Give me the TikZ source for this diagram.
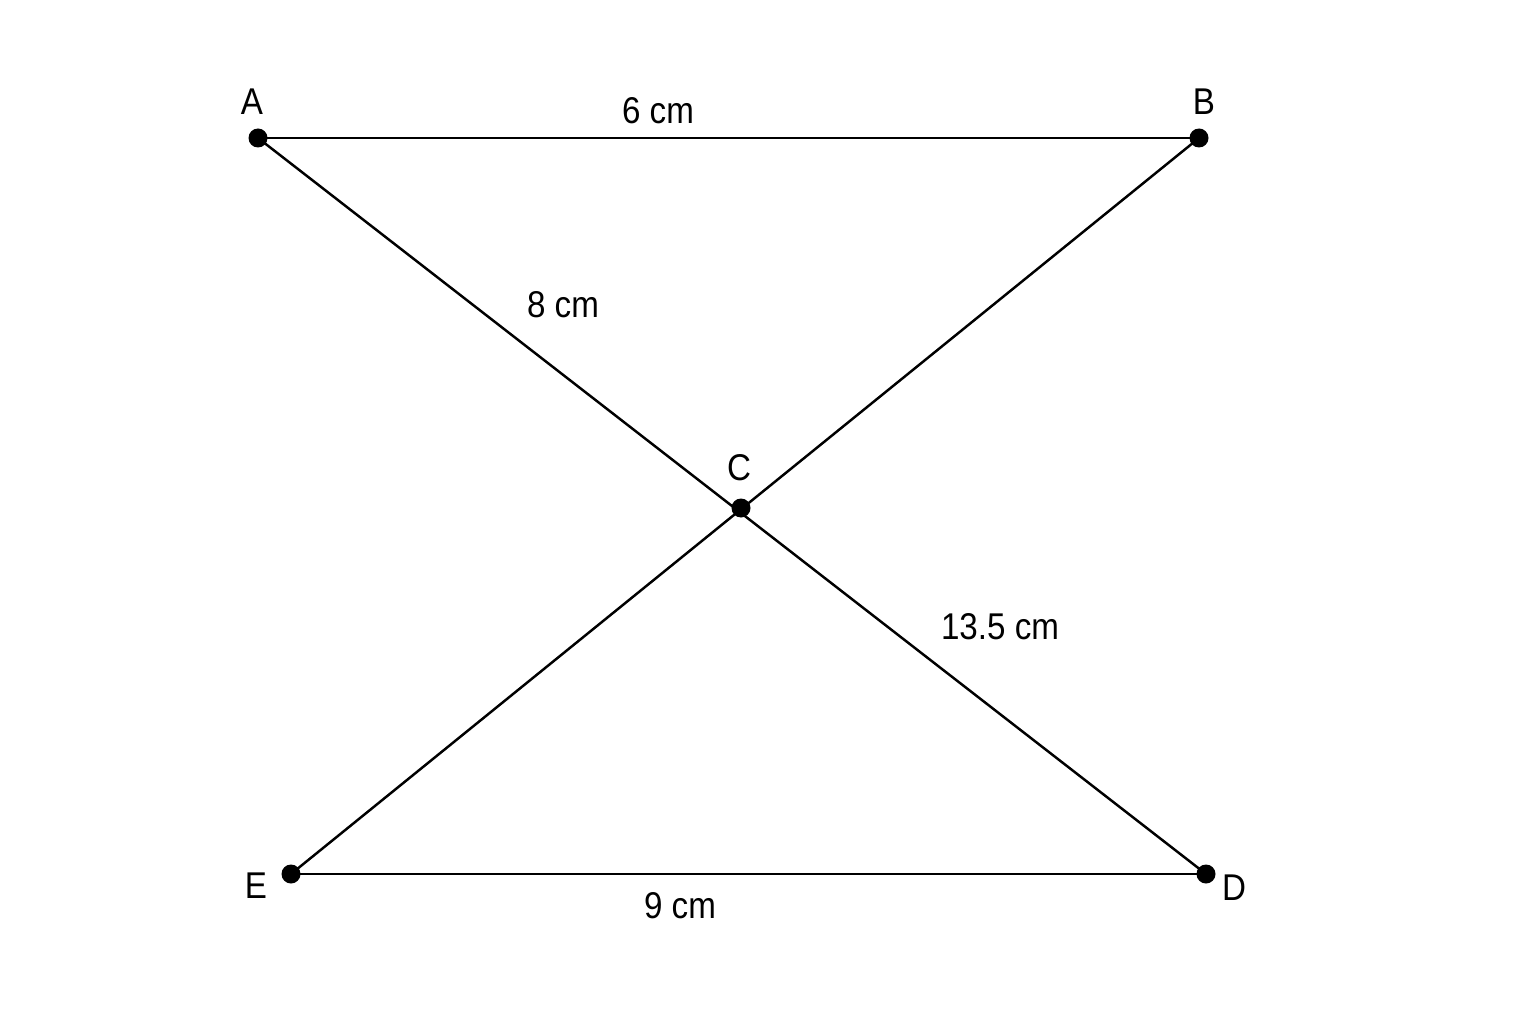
\documentclass[tikz,border=0pt]{standalone}
\usepackage{fontspec}
\setmainfont{Liberation Sans}[FakeStretch=0.89]
\usetikzlibrary{positioning}

\begin{document}
\begin{tikzpicture}
            \tikzstyle{point} = [circle, fill=black, inner sep=0pt, minimum size=0.19cm]
            \tikzstyle{tag} = [inner sep=0pt, font=\fontsize{10.6}{12}\selectfont]
            \tikzstyle{side} = [line width=0.7pt, black]

            \useasboundingbox (0,0) rectangle (15.36,10.24);

            \node [point] (A) at (2.58,8.86) {};
            \node [point] (B) at (11.99,8.86) {};
            \node [point] (C) at (7.41,5.16) {};
            \node [point] (D) at (12.06,1.50) {};
            \node [point] (E) at (2.91,1.50) {};

            \draw [side] (A.center) -- (B.center);
            \draw [side] (A.center) -- (D.center);
            \draw [side] (B.center) -- (E.center);
            \draw [side] (E.center) -- (D.center);

            \node [tag] (lA) at (2.52,9.22) {A};
            \node [tag] (lB) at (12.04,9.22) {B};
            \node [tag] (lC) at (7.39,5.56) {C};
            \node [tag] (lD) at (12.34,1.36) {D};
            \node [tag] (lE) at (2.56,1.38) {E};

            \node [tag] (ab) at (6.58,9.13) {6 cm};
            \node [tag] (ac) at (5.63,7.19) {8 cm};
            \node [tag] (cd) at (10.00,3.97) {13.5 cm};
            \node [tag] (ed) at (6.80,1.18) {9 cm};
        \end{tikzpicture}
\end{document}
